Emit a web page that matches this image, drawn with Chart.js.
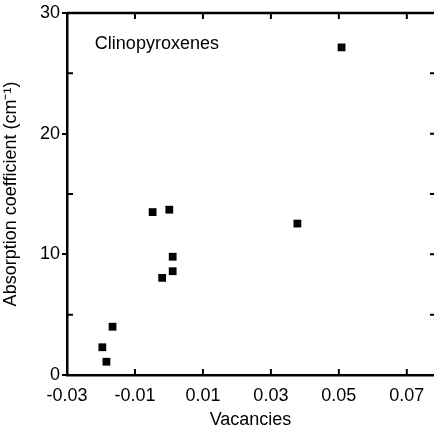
<!DOCTYPE html>
<html>
<head>
<meta charset="utf-8">
<script src="https://cdn.jsdelivr.net/npm/chart.js@4"></script>
<style>
  body { margin: 0; background: #fff; }
  canvas { display: block; }
</style>
</head>
<body>
<canvas id="myChart" width="434" height="429"></canvas>
<script>
// values
var vacancies  = [-0.0048, 0.0001, 0.0011, 0.0011, -0.0020, -0.0166, -0.0196, -0.0184, 0.0378, 0.0508];
var absorption = [13.5, 13.7, 9.8, 8.6, 8.05, 4.0, 2.3, 1.1, 12.55, 27.15];
var xTicks = [-0.03, -0.01, 0.01, 0.03, 0.05, 0.07];
var yTicks = [0, 10, 20, 30];
var yMinor = [5, 15, 25];
var yRight = [5, 10, 15, 20, 25];

var points = vacancies.map(function (v, i) {
  return { x: v, y: absorption[i] };
});

var fontFam = "'Liberation Sans', Arial, Helvetica, sans-serif";
Chart.defaults.font.family = fontFam;
Chart.defaults.color = "#000";

// frame, inward ticks and the plot label, placed through the scales
var frame = {
  id: "frame",
  afterDraw: function (chart) {
    var c = chart.ctx, a = chart.chartArea;
    var xs = chart.scales.x, ys = chart.scales.y;
    c.save();
    c.strokeStyle = "#000";
    c.lineWidth = 2.5;
    c.beginPath();
    c.moveTo(a.left, a.top);
    c.lineTo(a.right, a.top);
    c.stroke();
    c.lineWidth = 2;
    c.beginPath();
    xTicks.forEach(function (v) {
      if (v === xTicks[0]) return;
      var px = xs.getPixelForValue(v);
      c.moveTo(px, a.bottom);
      c.lineTo(px, a.bottom - 6);
      c.moveTo(px, a.top);
      c.lineTo(px, a.top + 6);
    });
    yMinor.forEach(function (v) {
      var py = ys.getPixelForValue(v);
      c.moveTo(a.left, py);
      c.lineTo(a.left + 6, py);
    });
    yRight.forEach(function (v) {
      var py = ys.getPixelForValue(v);
      c.moveTo(a.right, py);
      c.lineTo(a.right - 4, py);
    });
    c.stroke();
    c.fillStyle = "#000";
    c.font = "18px " + fontFam;
    c.textBaseline = "middle";
    c.fillText("Clinopyroxenes", xs.getPixelForValue(-0.0218), ys.getPixelForValue(27.4));
    c.restore();
  }
};

var ctx = document.getElementById("myChart");
var myChart = new Chart(ctx, {
  type: "scatter",
  data: {
    datasets: [
      {
        label: "Clinopyroxenes",
        data: points,
        pointStyle: "rect",
        pointRadius: 5.5,
        pointBorderWidth: 0,
        backgroundColor: "#000",
        borderColor: "#000"
      }
    ]
  },
  options: {
    responsive: false,
    animation: false,
    layout: { autoPadding: false, padding: { top: 13, right: 0, left: 0, bottom: 0 } },
    plugins: {
      legend: { display: false },
      tooltip: { enabled: false }
    },
    scales: {
      x: {
        type: "linear",
        min: -0.03,
        max: 0.078,
        afterBuildTicks: function (s) {
          s.ticks = xTicks.map(function (v) { return { value: v }; });
        },
        afterFit: function (s) { s.height = 54; },
        grid: { display: false, tickLength: 4 },
        border: { display: true, color: "#000", width: 2.5 },
        ticks: {
          font: { size: 18 },
          padding: 6,
          maxRotation: 0,
          callback: function (v) { return String(v); }
        },
        title: {
          display: true,
          text: "Vacancies",
          font: { size: 18, lineHeight: 1 },
          padding: { top: 0, bottom: 0 }
        }
      },
      y: {
        min: 0,
        max: 30,
        afterBuildTicks: function (s) {
          s.ticks = yTicks.map(function (v) { return { value: v }; });
        },
        afterFit: function (s) { s.width = 67; },
        grid: {
          drawOnChartArea: false,
          drawTicks: true,
          tickLength: 5,
          color: "#000",
          lineWidth: 2
        },
        border: { display: true, color: "#000", width: 2.5 },
        ticks: { font: { size: 18 }, padding: 2 },
        title: {
          display: true,
          text: "Absorption coefficient (cm\u207B\u00B9)",
          font: { size: 18 },
          padding: { top: 0, bottom: 2 }
        }
      }
    }
  },
  plugins: [frame]
});
</script>
</body>
</html>
